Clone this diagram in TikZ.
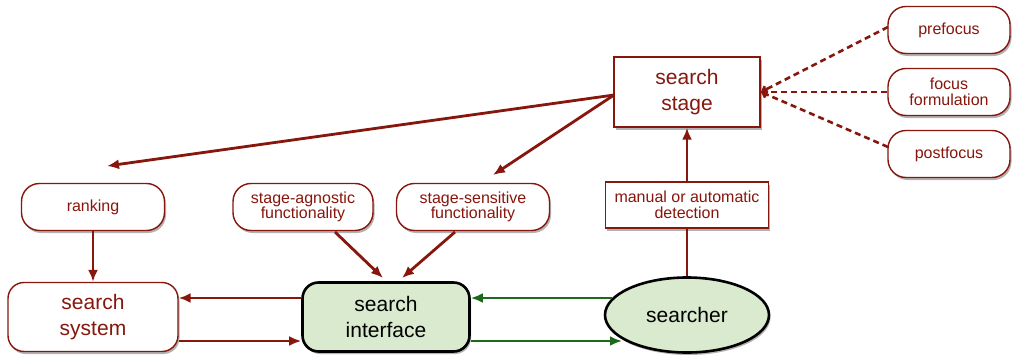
\documentclass[tikz,border=0pt]{standalone}
\usepackage{fontspec}
\setmainfont{Liberation Sans}
\usetikzlibrary{arrows.meta,shadows,shapes.geometric}
\definecolor{dred}{RGB}{135,22,12}
\definecolor{lgreen}{RGB}{217,234,206}
\definecolor{dgreen}{RGB}{28,105,30}
\begin{document}
\begin{tikzpicture}[x=1pt,y=-1pt,
  shd/.style={drop shadow={shadow xshift=1.5pt,shadow yshift=-2.5pt,opacity=0.3,fill=black}},
  pill/.style={draw=dred,line width=1.4pt,fill=white,rounded corners=18pt,shd,text=dred,
     font=\fontsize{16}{15.5}\selectfont,align=center,inner sep=0pt,minimum height=47pt},
  bigbox/.style={draw=dred,line width=1.4pt,fill=white,shd,text=dred,
     font=\fontsize{21}{26}\selectfont,align=center,inner sep=0pt},
  gbox/.style={draw=black,line width=2.6pt,fill=lgreen,shd,text=black,
     font=\fontsize{21}{26}\selectfont,align=center,inner sep=0pt},
  rarr/.style={draw=dred,line width=2.8pt,-{Latex[length=12pt,width=10pt]}},
  rline/.style={draw=dred,line width=2.8pt},
  garr/.style={draw=dgreen,line width=2.8pt,-{Latex[length=12pt,width=10pt]}},
  darr/.style={draw=dred,line width=2.6pt,dash pattern=on 6pt off 4pt,-{Straight Barb[length=4pt,width=7pt]}}
]
\useasboundingbox (0,0) rectangle (1013,356);
% top right
\node[bigbox,minimum width=146pt,minimum height=70pt] (stage) at (687,92) {search\\stage};
\node[pill,minimum width=122pt] (pre) at (949,30) {prefocus};
\node[pill,minimum width=122pt] (foc) at (949,92) {focus\\formulation};
\node[pill,minimum width=122pt] (post) at (949,154) {postfocus};
% middle row
\node[pill,minimum width=143pt] (rank) at (93,207) {ranking};
\node[pill,minimum width=140pt] (agn) at (303,207) {stage-agnostic\\functionality};
\node[pill,minimum width=153pt] (sens) at (473,207) {stage-sensitive\\functionality};
\node[draw=dred,line width=1.2pt,fill=white,shd,text=dred,font=\fontsize{16}{15.5}\selectfont,
  align=center,inner sep=0pt,minimum width=163pt,minimum height=46pt] (det) at (687,205) {manual or automatic\\detection};
% bottom row
\node[bigbox,rounded corners=16pt,minimum width=170pt,minimum height=69pt] (sys) at (93,317) {search\\system};
\node[gbox,rounded corners=16pt,minimum width=167pt,minimum height=69pt] (int) at (386,317) {search\\interface};
\node[ellipse,gbox,minimum width=164pt,minimum height=75pt] (usr) at (687,315) {searcher};
% free ends
\coordinate (sL) at (614,95);
\coordinate (rkT) at (107,166);
\coordinate (snT) at (493,175);
\coordinate (agB) at (335,232);
\coordinate (intA) at (383,278);
\coordinate (snB) at (455,232);
\coordinate (intB) at (402,278);
\coordinate (preL) at (888,27);
\coordinate (postL) at (888,147);
\coordinate (stR) at (761,92);
% connectors
\draw[rarr] (sL) -- (rkT);
\draw[rarr] (sL) -- (snT);
\draw[rarr] (rank.south) -- (sys.north);
\draw[rarr] (agB) -- (intA);
\draw[rarr] (snB) -- (intB);
\draw[rarr] (int.west |- 0,298) -- (sys.east |- 0,298);
\draw[rarr] (sys.east |- 0,341) -- (int.west |- 0,341);
\draw[garr] (usr.west |- 0,298) ++(8,0) -- (int.east |- 0,298);
\draw[garr] (int.east |- 0,341) -- (622,341);
\draw[rline] (usr.north) -- (det.south);
\draw[rarr] (det.north) -- (stage.south);
\draw[darr] (preL) -- (stR);
\draw[darr] (foc.west) -- (stR);
\draw[darr] (postL) -- (stR);
\end{tikzpicture}
\end{document}
